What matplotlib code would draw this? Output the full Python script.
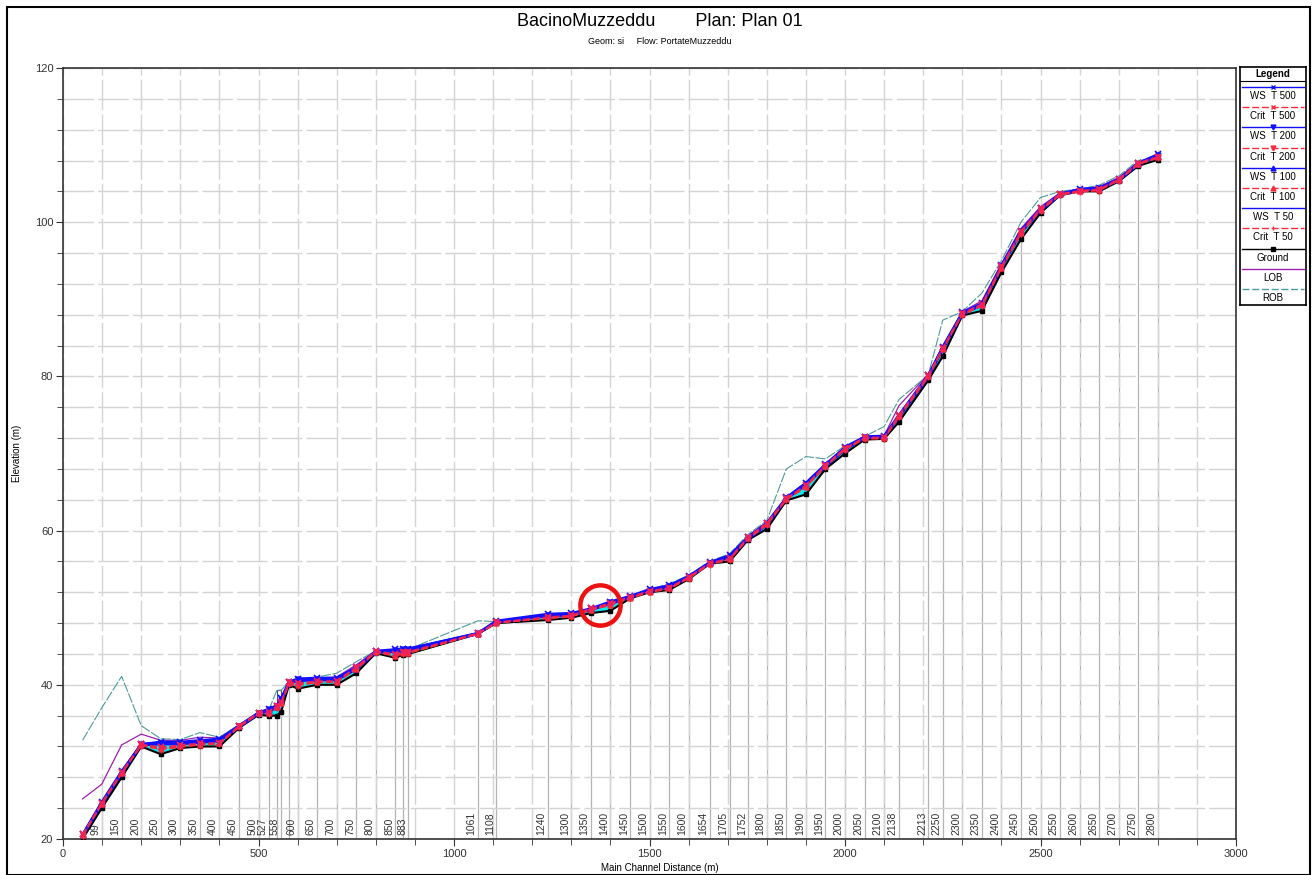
import numpy as np
import matplotlib
matplotlib.use("Agg")
import matplotlib.pyplot as plt
from matplotlib.patches import Rectangle

plt.rcParams["font.family"] = ["Liberation Sans", "DejaVu Sans"]

# river stations (main channel distance, m) and the names written at the bottom
stations = [50, 99, 150, 200, 250, 300, 350, 400, 450, 500,
            527, 547, 558, 578, 600, 650, 700, 750, 800, 850,
            870, 883, 1061, 1108, 1240, 1300, 1350, 1400, 1450, 1500,
            1550, 1600, 1654, 1705, 1752, 1800, 1850, 1900, 1950, 2000,
            2050, 2100, 2138, 2213, 2250, 2300, 2350, 2400, 2450, 2500,
            2550, 2600, 2650, 2700, 2750, 2800]
station_names = ["", "99", "150", "200", "250", "300", "350", "400", "450", "500",
                 "527", "", "558", "", "600", "650", "700", "750", "800", "850",
                 "", "883", "1061", "1108", "1240", "1300", "1350", "1400", "1450", "1500",
                 "1550", "1600", "1654", "1705", "1752", "1800", "1850", "1900", "1950", "2000",
                 "2050", "2100", "2138", "2213", "2250", "2300", "2350", "2400", "2450", "2500",
                 "2550", "2600", "2650", "2700", "2750", "2800"]

ground = [20.0, 24.0, 28.0, 32.0, 31.0, 31.8, 32.0, 32.0, 34.4, 36.1,
          36.0, 36.0, 36.5, 40.0, 39.5, 40.0, 40.0, 41.5, 44.1, 43.5,
          43.9, 44.0, 46.6, 48.0, 48.4, 48.7, 49.3, 49.6, 51.2, 52.0,
          52.3, 53.7, 55.7, 56.0, 58.8, 60.2, 63.9, 64.7, 68.0, 70.0,
          71.8, 71.9, 74.1, 79.5, 82.6, 87.9, 88.5, 93.5, 97.8, 101.2,
          103.5, 104.0, 104.0, 105.3, 107.3, 108.1]

ws_t500 = [20.6, 24.8, 28.8, 32.3, 32.6, 32.6, 32.8, 33.0, 34.7, 36.4,
           36.9, 37.3, 38.3, 40.4, 40.8, 40.9, 40.9, 42.3, 44.4, 44.6,
           44.7, 44.7, 46.7, 48.3, 49.2, 49.3, 49.9, 50.8, 51.5, 52.4,
           52.9, 54.1, 55.9, 56.8, 59.2, 61.0, 64.3, 66.2, 68.6, 70.8,
           72.2, 72.3, 75.0, 80.2, 83.8, 88.3, 89.5, 94.4, 98.9, 101.8,
           103.7, 104.3, 104.5, 105.6, 107.7, 108.8]
ws_t200 = [20.5, 24.7, 28.7, 32.3, 32.5, 32.5, 32.7, 32.9, 34.6, 36.3,
           36.8, 37.2, 38.1, 40.3, 40.7, 40.8, 40.8, 42.2, 44.3, 44.5,
           44.6, 44.6, 46.7, 48.2, 49.1, 49.2, 49.8, 50.7, 51.4, 52.3,
           52.8, 54.0, 55.8, 56.7, 59.1, 60.9, 64.2, 66.1, 68.5, 70.7,
           72.1, 72.2, 74.9, 80.1, 83.7, 88.2, 89.4, 94.3, 98.8, 101.7,
           103.6, 104.2, 104.4, 105.5, 107.6, 108.7]
ws_t100 = [20.5, 24.6, 28.6, 32.2, 32.4, 32.4, 32.6, 32.8, 34.6, 36.3,
           36.7, 37.1, 38.0, 40.2, 40.6, 40.7, 40.7, 42.1, 44.3, 44.4,
           44.5, 44.5, 46.6, 48.2, 49.0, 49.1, 49.8, 50.6, 51.4, 52.3,
           52.7, 54.0, 55.8, 56.6, 59.0, 60.8, 64.2, 66.0, 68.4, 70.6,
           72.1, 72.2, 74.8, 80.0, 83.6, 88.2, 89.3, 94.2, 98.7, 101.6,
           103.6, 104.2, 104.4, 105.5, 107.6, 108.6]
ws_t50 = [20.4, 24.5, 28.5, 32.2, 32.3, 32.3, 32.5, 32.7, 34.5, 36.2,
          36.6, 37.0, 37.8, 40.1, 40.5, 40.6, 40.6, 42.0, 44.2, 44.3,
          44.4, 44.4, 46.6, 48.1, 48.9, 49.0, 49.7, 50.5, 51.3, 52.2,
          52.6, 53.9, 55.7, 56.5, 58.9, 60.7, 64.1, 65.9, 68.3, 70.5,
          72.0, 72.1, 74.7, 79.9, 83.5, 88.1, 89.2, 94.1, 98.6, 101.5,
          103.5, 104.1, 104.3, 105.4, 107.5, 108.5]

crit_t500 = [20.6, 24.7, 28.7, 32.3, 31.9, 32.2, 32.4, 32.5, 34.7, 36.4,
             36.5, 37.3, 37.8, 40.4, 40.2, 40.5, 40.5, 42.3, 44.4, 44.0,
             44.3, 44.3, 46.7, 48.1, 48.8, 49.0, 49.9, 50.6, 51.4, 52.2,
             52.6, 54.0, 55.8, 56.4, 59.2, 61.0, 64.2, 65.9, 68.5, 70.7,
             72.1, 72.1, 75.0, 80.2, 83.7, 88.2, 89.4, 94.3, 98.8, 101.8,
             103.7, 104.1, 104.3, 105.6, 107.7, 108.5]
crit_t200 = [20.5, 24.6, 28.6, 32.2, 31.8, 32.1, 32.3, 32.4, 34.6, 36.3,
             36.4, 37.2, 37.7, 40.3, 40.1, 40.4, 40.4, 42.2, 44.3, 43.9,
             44.2, 44.2, 46.6, 48.1, 48.7, 48.9, 49.8, 50.5, 51.3, 52.1,
             52.5, 53.9, 55.7, 56.3, 59.1, 60.9, 64.1, 65.8, 68.4, 70.6,
             72.0, 72.0, 74.9, 80.1, 83.6, 88.1, 89.3, 94.2, 98.7, 101.7,
             103.6, 104.0, 104.2, 105.5, 107.6, 108.4]
crit_t100 = [20.5, 24.6, 28.6, 32.2, 31.7, 32.0, 32.2, 32.4, 34.6, 36.3,
             36.3, 37.1, 37.6, 40.2, 40.0, 40.4, 40.4, 42.1, 44.3, 43.8,
             44.1, 44.1, 46.6, 48.0, 48.7, 48.9, 49.7, 50.4, 51.3, 52.1,
             52.5, 53.9, 55.7, 56.3, 59.0, 60.8, 64.1, 65.7, 68.4, 70.6,
             72.0, 72.0, 74.8, 80.0, 83.6, 88.1, 89.2, 94.1, 98.6, 101.6,
             103.6, 104.0, 104.2, 105.5, 107.6, 108.4]
crit_t50 = [20.4, 24.5, 28.5, 32.1, 31.6, 31.9, 32.2, 32.3, 34.5, 36.2,
            36.2, 37.0, 37.5, 40.1, 39.9, 40.3, 40.3, 42.0, 44.2, 43.7,
            44.0, 44.1, 46.6, 48.0, 48.6, 48.8, 49.7, 50.3, 51.2, 52.0,
            52.4, 53.8, 55.6, 56.2, 58.9, 60.7, 64.0, 65.6, 68.3, 70.5,
            71.9, 71.9, 74.7, 79.9, 83.5, 88.0, 89.1, 94.0, 98.5, 101.5,
            103.5, 103.9, 104.1, 105.4, 107.5, 108.3]

lob = [25.2, 27.1, 32.2, 33.6, 32.8, 32.8, 33.2, 33.1, 34.8, 36.4,
       36.8, 37.5, 38.2, 40.4, 40.7, 40.9, 41.0, 42.6, 44.4, 44.5,
       44.6, 44.7, 46.7, 48.2, 49.1, 49.2, 49.8, 50.6, 51.5, 52.3,
       52.9, 54.1, 55.9, 56.8, 59.3, 61.1, 64.3, 66.2, 68.6, 70.9,
       72.2, 72.3, 76.2, 80.3, 84.0, 88.4, 89.8, 94.6, 99.2, 102.0,
       103.8, 104.3, 104.6, 105.8, 107.8, 108.6]
rob = [32.8, 37.0, 41.1, 34.7, 33.0, 32.9, 33.8, 33.2, 34.8, 36.4,
       36.8, 39.3, 39.3, 40.4, 40.6, 41.0, 41.5, 43.0, 44.4, 44.3,
       44.6, 44.6, 48.3, 48.2, 48.9, 49.0, 49.6, 50.7, 51.5, 52.3,
       53.1, 54.2, 56.0, 57.0, 59.5, 61.3, 68.0, 69.6, 69.3, 71.0,
       72.2, 73.5, 77.0, 80.2, 87.3, 88.4, 90.8, 95.0, 100.0, 103.2,
       104.0, 104.3, 104.8, 106.0, 108.0, 108.3]

# bridge deck between the two sections around 550 m
bridge_x = [547, 558]
bridge_low, bridge_high = 37.6, 39.3

# spot circled in red on the profile
circle_x, circle_y = [1373], [50.3]

WS_COL = "#1010ff"
CRIT_COL = "#ff2a3c"
LOB_COL = "#a020b0"
ROB_COL = "#4f9a9a"

fig = plt.figure(figsize=(13.12, 8.75), dpi=100)
W, H = 1312, 875
ax = fig.add_axes([63 / W, 1 - 839 / H, (1236 - 63) / W, (839 - 68) / H])

ax.set_xlim(0, 3000)
ax.set_ylim(20, 120)

# grid
ax.set_xticks(np.arange(0, 3001, 100), minor=True)
ax.set_xticks(np.arange(0, 3001, 500))
ax.set_yticks(np.arange(20, 121, 20))
ax.set_yticks(np.arange(20, 121, 4), minor=True)
ax.grid(which="both", color="#d4d4d4", lw=1.0, ls=(0, (22, 3)), zorder=0)
ax.tick_params(which="both", direction="out", labelsize=8, colors="#333333")
ax.tick_params(which="major", length=5, pad=2)
ax.tick_params(which="minor", length=4)
for s in ax.spines.values():
    s.set_color("#333333")
    s.set_linewidth(1.2)

# station lines and names
ax.vlines(stations, 20, ground, color="#b4b4b4", lw=0.9, zorder=1)
for x, name in zip(stations, station_names):
    if name:
        ax.text(x - 3, 20.5, name, rotation=90, ha="right", va="bottom",
                fontsize=7.5, color="#333333", zorder=2)

# water
ax.fill_between(stations, ground, ws_t500, color="#00f0f0", lw=0, zorder=2)

ax.add_patch(Rectangle((bridge_x[0], bridge_low), bridge_x[1] - bridge_x[0],
                       bridge_high - bridge_low, fill=False, ec="#555555",
                       lw=0.8, zorder=3))

ax.plot(stations, lob, color=LOB_COL, lw=0.9, zorder=3)
ax.plot(stations, rob, color=ROB_COL, lw=0.8, ls=(0, (9, 1.5)), zorder=3)
ax.plot(stations, ground, color="black", lw=1.5, marker="s", ms=3.5, zorder=4)

ax.plot(stations, ws_t50, color=WS_COL, lw=1.7, zorder=5)
ax.plot(stations, ws_t100, color=WS_COL, lw=1.7, marker="^", ms=3.5, zorder=5)
ax.plot(stations, ws_t200, color=WS_COL, lw=1.7, marker="v", ms=3.5, zorder=5)
ax.plot(stations, ws_t500, color=WS_COL, lw=1.7, marker="x", ms=4, mew=1.2, zorder=5)

ax.plot(stations, crit_t50, color=CRIT_COL, lw=1.0, ls=(0, (5, 2)), marker="|", ms=4, zorder=6)
ax.plot(stations, crit_t100, color=CRIT_COL, lw=1.0, ls=(0, (5, 2)), marker="^", ms=3.5, zorder=6)
ax.plot(stations, crit_t200, color=CRIT_COL, lw=1.0, ls=(0, (5, 2)), marker="v", ms=3.5, zorder=6)
ax.plot(stations, crit_t500, color="#f0205a", lw=1.0, ls=(0, (5, 2)), marker="x", ms=4.5, mew=1.4, zorder=6)

ax.plot(circle_x, circle_y, ls="none", marker="o", ms=29, mfc="none",
        mec="#ee1111", mew=3.2, zorder=7)

fig.text(660 / W, 1 - 868 / H, "Main Channel Distance (m)", ha="center",
         va="center", fontsize=7)
fig.text(17 / W, 1 - 453 / H, "Elevation (m)", ha="center", va="center",
         rotation=90, fontsize=7)

fig.text(660 / W, 1 - 22 / H, "BacinoMuzzeddu        Plan: Plan 01",
         ha="center", va="center", fontsize=13)
fig.text(660 / W, 1 - 42 / H, "Geom: si     Flow: PortateMuzzeddu",
         ha="center", va="center", fontsize=6.5)

# outer frame
fig.patches.append(Rectangle((7 / W, 0), (1310 - 7) / W, 1 - 7 / H,
                             transform=fig.transFigure, fill=False,
                             ec="black", lw=1.5))

# legend panel, laid out in pixel units
lg = fig.add_axes([1240 / W, 1 - 305 / H, 66 / W, (305 - 67) / H])
lg.set_xlim(0, 66)
lg.set_ylim(238, 0)
lg.set_xticks([])
lg.set_yticks([])
for s in lg.spines.values():
    s.set_linewidth(1.2)
lg.text(33, 7, "Legend", ha="center", va="center", fontsize=7, weight="bold")
lg.plot([0, 66], [14, 14], color="black", lw=0.8)

legend_items = [
    ("WS  T 500", WS_COL, "-", "x"),
    ("Crit  T 500", CRIT_COL, (0, (5, 2)), "x"),
    ("WS  T 200", WS_COL, "-", "v"),
    ("Crit  T 200", CRIT_COL, (0, (5, 2)), "v"),
    ("WS  T 100", WS_COL, "-", "^"),
    ("Crit  T 100", CRIT_COL, (0, (5, 2)), "^"),
    ("WS  T 50", WS_COL, "-", None),
    ("Crit  T 50", CRIT_COL, (0, (5, 2)), "|"),
    ("Ground", "black", "-", "s"),
    ("LOB", LOB_COL, "-", None),
    ("ROB", ROB_COL, (0, (5, 2)), None),
]
for i, (label, col, ls, mk) in enumerate(legend_items):
    yl = 20 + i * 20.2
    lg.plot([2, 64], [yl, yl], color=col, ls=ls, lw=1.0)
    if mk:
        lg.plot([33], [yl], color=col, marker=mk, ms=3.5)
    lg.text(33, yl + 9, label, ha="center", va="center", fontsize=7)

fig.savefig("out.png", dpi=100)
